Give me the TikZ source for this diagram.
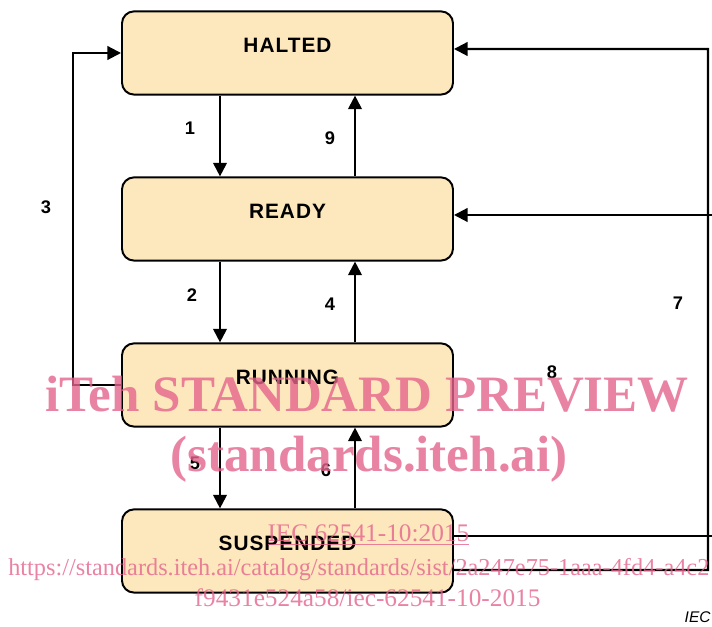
\documentclass[tikz,border=0pt]{standalone}
\usepackage{fontspec}
\setmainfont{Liberation Sans}
\newfontfamily\wmfont{Liberation Serif}
\newfontfamily\statefont[LetterSpace=5]{Liberation Sans}
\usetikzlibrary{arrows.meta, positioning, calc}
\definecolor{statefill}{RGB}{253, 231, 189}
\definecolor{wmpink}{RGB}{228, 100, 140}

\begin{document}
\begin{tikzpicture}[
  state/.style={draw=black, line width=1.4pt, fill=statefill, rounded corners=0.3cm,
    minimum width=8.275cm, minimum height=2.08cm, text height=0.4cm, text depth=0.4cm,
    font=\statefont\bfseries\fontsize{14.8}{17}\selectfont},
  tr/.style={line width=1.5pt, -{Triangle[length=0.34cm, width=0.34cm]}},
  num/.style={font=\bfseries\fontsize{13}{15}\selectfont},
  wm/.style={text=wmpink, text opacity=0.8, inner sep=0pt}]
  \useasboundingbox (0,0) rectangle (17.8,15.675);

  % 状态
  \node[state] (halted)    at (7.1875,14.35) {HALTED};
  \node[state] (ready)     at (7.1875,10.2)  {READY};
  \node[state] (running)   at (7.1875,6.05)  {RUNNING};
  \node[state] (suspended) at (7.1875,1.9)   {SUSPENDED};

  % 拐点
  \coordinate (lbend)  at (1.825,6.05);
  \coordinate (rbend7) at (17.7,14.45);
  \coordinate (rbend8) at (17.85,10.3);

  % 竖直转移
  \draw[tr] ([xshift=-1.6875cm]halted.south)  -- ([xshift=-1.6875cm]ready.north);
  \draw[tr] ([xshift=1.6875cm]ready.north)    -- ([xshift=1.6875cm]halted.south);
  \draw[tr] ([xshift=-1.6875cm]ready.south)   -- ([xshift=-1.6875cm]running.north);
  \draw[tr] ([xshift=1.6875cm]running.north)  -- ([xshift=1.6875cm]ready.south);
  \draw[tr] ([xshift=-1.6875cm]running.south) -- ([xshift=-1.6875cm]suspended.north);
  \draw[tr] ([xshift=1.6875cm]suspended.north) -- ([xshift=1.6875cm]running.south);

  % 绕行转移
  \draw[tr] (running.west) -- (lbend) |- (halted.west);
  \draw[tr] ([yshift=-0.475cm]suspended.east) -| (rbend7) -- ([yshift=0.1cm]halted.east);
  \draw[tr] ([yshift=0.375cm]suspended.east) -| (rbend8) -- ([yshift=0.1cm]ready.east);

  % 编号
  \node[num] (n1) at (4.75,12.475) {1};
  \node[num] (n9) at (8.25,12.225) {9};
  \node[num] (n3) at (1.15,10.5)   {3};
  \node[num] (n2) at (4.8,8.3)     {2};
  \node[num] (n4) at (8.25,8.075)  {4};
  \node[num] (n7) at (16.95,8.1)   {7};
  \node[num] (n8) at (13.8,6.375)  {8};
  \node[num] (n5) at (4.875,4.1)   {5};
  \node[num] (n6) at (8.15,3.925)  {6};
  \node[font=\itshape\fontsize{11}{13}\selectfont] (iec) at (17.44,0.24) {IEC};

  % 水印
  \node[wm, font=\wmfont\bfseries\fontsize{36.3}{40}\selectfont, anchor=base] (wm1) at (9.18,5.375) {iTeh STANDARD PREVIEW};
  \node[wm, font=\wmfont\bfseries\fontsize{36.3}{40}\selectfont, anchor=base] (wm2) at (9.225,3.875) {(standards.iteh.ai)};
  \node[wm, font=\wmfont\fontsize{18}{20}\selectfont, anchor=base] (wm3) at (9.21,2.125) {\underline{IEC 62541-10:2015}};
  \node[wm, font=\wmfont\fontsize{17.3}{20}\selectfont, anchor=base west] (wm4) at (0.2,1.275) {https://standards.iteh.ai/catalog/standards/sist/2a247e75-1aaa-4fd4-a4c2};
  \node[wm, font=\wmfont\fontsize{18}{20}\selectfont, anchor=base] (wm5) at (9.19,0.5) {f9431e524a58/iec-62541-10-2015};
\end{tikzpicture}
\end{document}
